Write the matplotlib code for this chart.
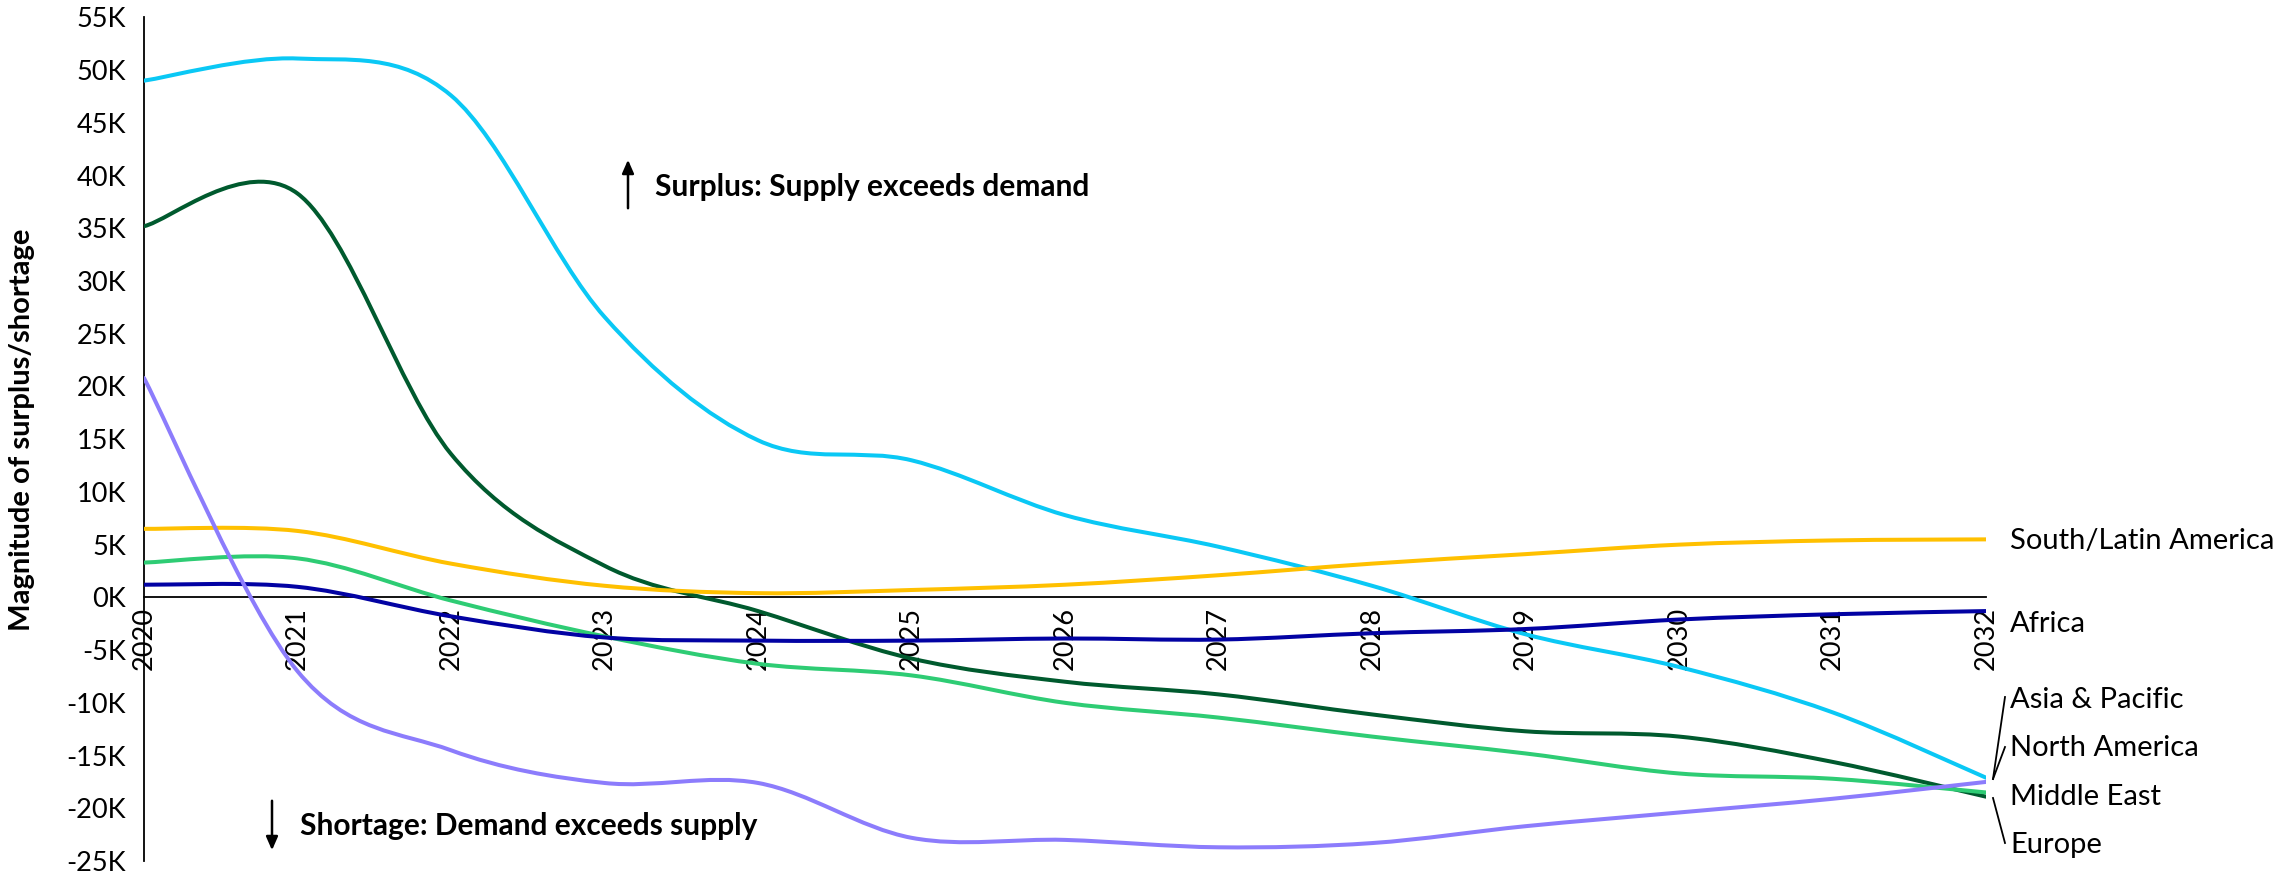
import matplotlib
matplotlib.use("Agg")
import matplotlib.pyplot as plt
from matplotlib.path import Path
from matplotlib.patches import PathPatch
from matplotlib.ticker import FuncFormatter, MultipleLocator

plt.rcParams['font.family'] = ['Lato', 'DejaVu Sans']

years = list(range(2020, 2033))

asia_pacific = [49000, 51100, 47600, 26600, 14900, 13000, 7800, 4800, 1100, -3500, -6600, -10900, -17100]
europe = [35200, 38300, 13600, 3000, -1300, -5800, -8000, -9200, -11100, -12700, -13200, -15600, -18900]
middle_east = [3300, 3700, -300, -3700, -6300, -7400, -10000, -11400, -13200, -14800, -16700, -17200, -18500]
south_latin = [6500, 6300, 3200, 1100, 400, 700, 1200, 2100, 3200, 4100, 5000, 5400, 5500]
africa = [1200, 1000, -1800, -3800, -4100, -4100, -3900, -4000, -3400, -3000, -2100, -1600, -1300]
north_america = [20800, -7000, -14500, -17600, -17600, -22800, -23000, -23700, -23300, -21700, -20400, -19100, -17500]

series = [
    ("Asia & Pacific", asia_pacific, "#0AC8F5"),
    ("Europe", europe, "#005A2E"),
    ("Middle East", middle_east, "#2ECC74"),
    ("South/Latin America", south_latin, "#FFC000"),
    ("Africa", africa, "#0202A3"),
    ("North America", north_america, "#8C7CFC"),
]

W, H = 2280, 880
fig = plt.figure(figsize=(W / 100, H / 100), dpi=100)
ax = fig.add_axes([144 / W, 1 - 861 / H, (1986 - 144) / W, (861 - 17.4) / H])


def smooth_path(xs, ys):
    n = len(xs)
    pts = list(zip(xs, ys))
    verts = [pts[0]]
    codes = [Path.MOVETO]
    for i in range(n - 1):
        p0 = pts[i - 1] if i > 0 else pts[i]
        p1 = pts[i]
        p2 = pts[i + 1]
        p3 = pts[i + 2] if i + 2 < n else pts[i + 1]
        c1 = (p1[0] + (p2[0] - p0[0]) / 6, p1[1] + (p2[1] - p0[1]) / 6)
        c2 = (p2[0] - (p3[0] - p1[0]) / 6, p2[1] - (p3[1] - p1[1]) / 6)
        verts += [c1, c2, p2]
        codes += [Path.CURVE4] * 3
    return Path(verts, codes)


for name, vals, col in series:
    patch = PathPatch(smooth_path(years, vals), facecolor='none', edgecolor=col,
                      lw=2.9, capstyle='round', joinstyle='round', zorder=3)
    ax.add_patch(patch)

ax.set_xlim(2020, 2032)
ax.set_ylim(-25000, 55000)
ax.spines['top'].set_visible(False)
ax.spines['right'].set_visible(False)
ax.spines['bottom'].set_position(('data', 0))
ax.spines['bottom'].set_linewidth(1.3)
ax.spines['left'].set_linewidth(1.3)
ax.set_xticks(years)
ax.set_xticklabels([str(y) for y in years], rotation=90)
ax.yaxis.set_major_locator(MultipleLocator(5000))
ax.yaxis.set_major_formatter(FuncFormatter(lambda v, p: f"{int(round(v / 1000))}K"))
ax.tick_params(axis='x', length=0, pad=7, labelsize=19.5)
ax.tick_params(axis='y', length=0, pad=13, labelsize=19.5)
for lbl in ax.get_xticklabels():
    lbl.set_verticalalignment('top')

fig.text(22 / W, 1 - 430 / H, "Magnitude of surplus/shortage", rotation=90,
         ha='center', va='center', fontsize=21, fontweight='bold')

# annotations
ax.annotate('', xy=(628, H - 157), xytext=(628, H - 211), xycoords='figure pixels',
            textcoords='figure pixels',
            arrowprops=dict(arrowstyle='-|>,head_length=0.8,head_width=0.35', lw=1.8, color='black'))
fig.text(655 / W, 1 - 187 / H, "Surplus: Supply exceeds demand", ha='left', va='center',
         fontsize=21.5, fontweight='bold')
ax.annotate('', xy=(272, H - 853), xytext=(272, H - 798), xycoords='figure pixels',
            textcoords='figure pixels',
            arrowprops=dict(arrowstyle='-|>,head_length=0.8,head_width=0.35', lw=1.8, color='black'))
fig.text(300 / W, 1 - 826 / H, "Shortage: Demand exceeds supply", ha='left', va='center',
         fontsize=21.5, fontweight='bold')

# right-side labels (figure pixel positions)
labels_pos = [
    ("South/Latin America", 541),
    ("Africa", 624),
    ("Asia & Pacific", 700),
    ("North America", 748),
    ("Middle East", 797),
    ("Europe", 845),
]
for txt, ypix in labels_pos:
    fig.text(2010 / W, 1 - ypix / H, txt, ha='left', va='center', fontsize=21)

leaders = [((1993, 779), (2005, 697)), ((1993, 779), (2005, 747)), ((1993, 798), (2005, 843))]
for (x0, y0), (x1, y1) in leaders:
    fig.add_artist(plt.Line2D([x0 / W, x1 / W], [1 - y0 / H, 1 - y1 / H], color='black', lw=1.3))

fig.savefig("out.png", dpi=100, facecolor='white')
